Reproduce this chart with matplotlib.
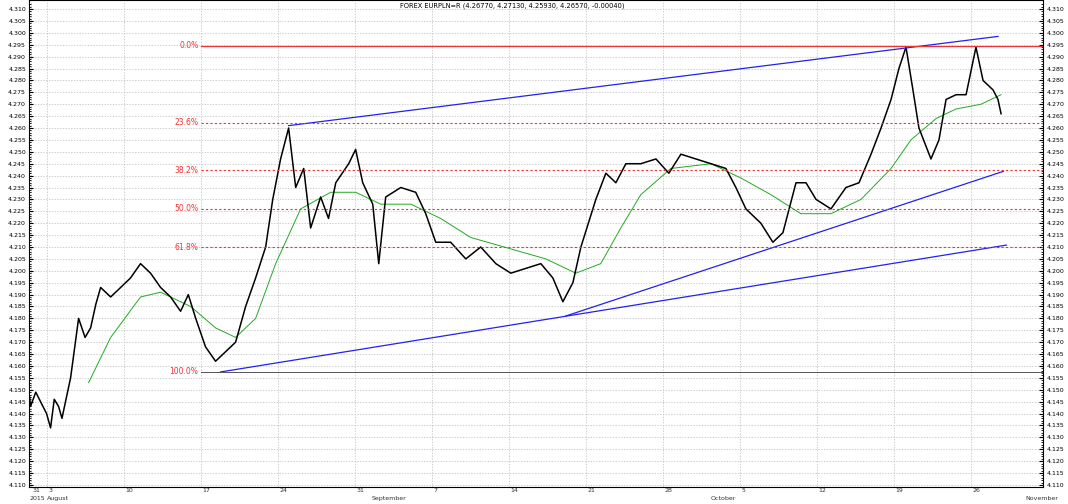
import matplotlib.pyplot as plt
import numpy as np

# x = trading day index (0 = 3 Aug 2015), y = EURPLN
price_day = [-1.1, -1.04, -0.7, -0.39, 0.0, 0.26, 0.5, 0.78, 1.0, 1.23, 1.56, 2.08, 2.5, 2.86, 3.2, 3.51,
             4.16, 4.81, 5.45, 6.10, 6.75, 7.40, 8.05, 8.70, 9.2, 9.68, 10.32, 10.97, 11.62,
             12.27, 12.92, 13.57, 14.22, 14.68, 15.19, 15.71, 16.17, 16.69, 17.14, 17.79,
             18.3, 18.77, 19.61, 20.06, 20.52, 21.17, 21.56, 22.01, 22.99, 23.96, 24.61,
             25.26, 26.23, 27.21, 28.18, 29.16, 30.13, 31.10, 32.08, 32.86, 33.51, 34.16,
             34.68, 35.65, 36.30, 36.95, 37.60, 38.57, 39.55, 40.39, 41.17, 42.14, 43.12,
             44.09, 44.74, 45.39, 46.36, 47.14, 47.79, 48.64, 49.29, 49.94, 50.91, 51.88,
             52.73, 53.51, 54.16, 54.81, 55.32, 55.78, 56.23, 56.62, 57.40, 57.92, 58.38,
             59.03, 59.68, 60.32, 60.78, 61.43, 61.75, 61.95]
price_val = [4.147, 4.143, 4.149, 4.145, 4.140, 4.134, 4.146, 4.143, 4.138, 4.145, 4.155, 4.180, 4.172, 4.176, 4.186, 4.193,
             4.189, 4.193, 4.197, 4.203, 4.199, 4.193, 4.189, 4.183, 4.190, 4.180, 4.168, 4.162, 4.166,
             4.170, 4.185, 4.197, 4.210, 4.230, 4.247, 4.260, 4.235, 4.243, 4.218, 4.231,
             4.222, 4.237, 4.245, 4.251, 4.237, 4.228, 4.203, 4.231, 4.235, 4.233, 4.224,
             4.212, 4.212, 4.205, 4.210, 4.203, 4.199, 4.201, 4.203, 4.197, 4.187, 4.195,
             4.210, 4.230, 4.241, 4.237, 4.245, 4.245, 4.247, 4.241, 4.249, 4.247, 4.245,
             4.243, 4.235, 4.226, 4.220, 4.212, 4.216, 4.237, 4.237, 4.230, 4.226, 4.235,
             4.237, 4.249, 4.260, 4.272, 4.285, 4.294, 4.276, 4.260, 4.247, 4.255, 4.272,
             4.274, 4.274, 4.294, 4.280, 4.276, 4.272, 4.266]

ma_day = [2.73, 4.16, 6.10, 7.40, 9.35, 10.97, 12.27, 13.57, 14.87, 16.49, 18.44, 20.06, 21.69,
          23.64, 25.58, 27.53, 30.78, 32.40, 34.35, 35.97, 37.27, 38.57, 40.52, 43.12, 45.06,
          47.01, 48.96, 50.91, 52.86, 54.81, 56.10, 57.73, 59.03, 60.65, 61.95]
ma_val = [4.153, 4.172, 4.189, 4.191, 4.185, 4.176, 4.172, 4.180, 4.203, 4.226, 4.233, 4.233, 4.228,
          4.228, 4.222, 4.214, 4.208, 4.205, 4.199, 4.203, 4.218, 4.232, 4.243, 4.245, 4.239,
          4.232, 4.224, 4.224, 4.230, 4.243, 4.255, 4.264, 4.268, 4.270, 4.274]

trend_lines = [((15.71, 4.261), (61.75, 4.2985)),
               ((11.3, 4.1575), (62.3, 4.2108)),
               ((33.7, 4.181), (62.1, 4.2418))]

fib_high = 4.2946
fib_low = 4.1575
fib_levels = [0.0, 0.236, 0.382, 0.5, 0.618]

week_pos = [-1, 0, 5, 10, 15, 20, 25, 30, 35, 40, 45, 50, 55, 60]
week_lab = ["31", "3", "10", "17", "24", "31", "7", "14", "21", "28", "5", "12", "19", "26"]
months = [(-1.1, "2015"), (0.05, "August"), (21.1, "September"), (43.1, "October"), (63.5, "November")]

title = "FOREX EURPLN=R (4.26770, 4.27130, 4.25930, 4.26570, -0.00040)"

fig = plt.figure(figsize=(10.68, 5.04), dpi=100)
ax = fig.add_axes([0.027, 0.034, 0.950, 0.966])
xmin, xmax = -1.15, 64.7
ymin, ymax = 4.1092, 4.3138
ax.set_xlim(xmin, xmax)
ax.set_ylim(ymin, ymax)

ax.plot(ma_day, ma_val, color="#22aa22", lw=0.7)
ax.plot(price_day, price_val, color="black", lw=1.1)
for (x0, y0), (x1, y1) in trend_lines:
    ax.plot([x0, x1], [y0, y1], color="#2222ee", lw=0.9)

# fibonacci retracement
ax.plot([10.0, xmax], [fib_high, fib_high], color="#ee3333", lw=0.9)
ax.plot([10.0, xmax], [fib_low, fib_low], color="#555555", lw=0.7)
for lev in fib_levels:
    yv = fib_high - lev * (fib_high - fib_low)
    if lev > 0:
        ax.plot([10.0, xmax], [yv, yv], color="#ee3333", lw=0.8, ls=(0, (2, 2)))
    ax.text(9.85, yv, f"{lev*100:.1f}%", color="#ee3333", fontsize=5.5, ha="right", va="center")
ax.text(9.85, fib_low, "100.0%", color="#ee3333", fontsize=5.5, ha="right", va="center")

yt = np.arange(4.110, 4.3101, 0.005)
ax.set_yticks(yt)
ax.set_yticks(np.arange(4.110, 4.313, 0.001), minor=True)
ax.set_yticklabels([f"{v:.3f}" for v in yt])
ax.tick_params(axis="y", which="both", left=True, right=True, labelleft=True, labelright=True,
               labelsize=4.5, direction="in", length=3, pad=2)
ax.tick_params(axis="y", which="minor", length=1.5)
ax.set_xticks(week_pos)
ax.set_xticklabels([])
ax.tick_params(axis="x", length=0)
ax.grid(True, color="#bbbbbb", ls=(0, (2, 2)), lw=0.5)

# date band below the axes
for p, lab in zip(week_pos, week_lab):
    ax.text(p + 0.1, ymin - 0.0004, lab, fontsize=4.5, ha="left", va="top", color="#333333", clip_on=False)
for p, lab in months:
    ax.text(p, ymin - 0.0038, lab, fontsize=4.5, ha="left", va="top", color="#333333", clip_on=False)

fig.text(0.48, 0.995, title, fontsize=4.8, ha="center", va="top")
fig.savefig("out.png", dpi=100)
